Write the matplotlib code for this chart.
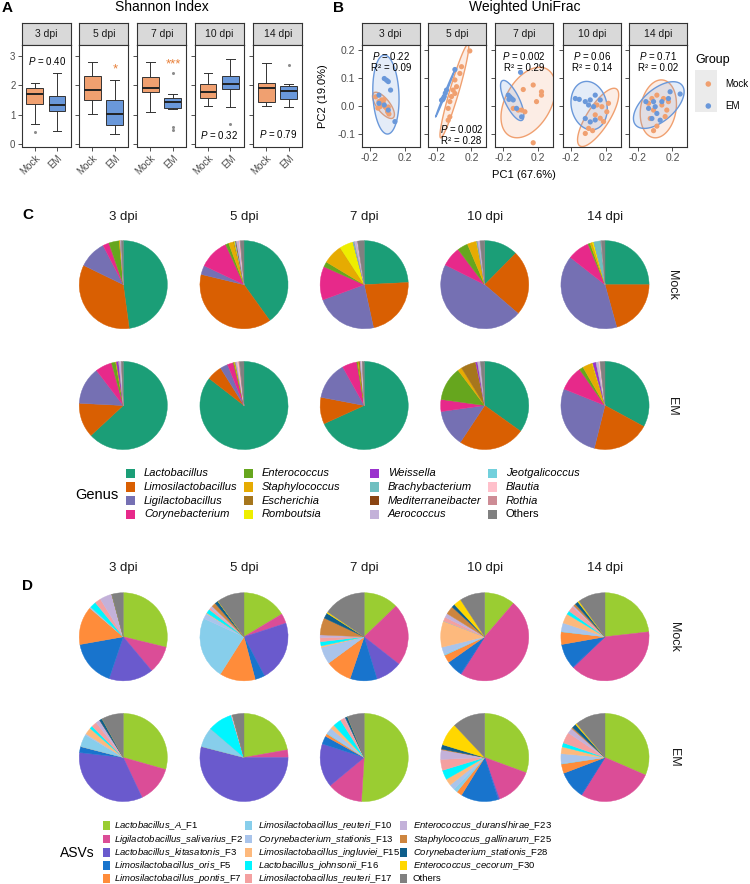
import numpy as np
import matplotlib
matplotlib.use('Agg')
import matplotlib.pyplot as plt
from matplotlib.patches import Rectangle, Polygon

plt.rcParams['font.family'] = ['Liberation Sans', 'DejaVu Sans']
plt.rcParams['mathtext.fontset'] = 'custom'
plt.rcParams['mathtext.rm'] = 'Liberation Sans'
plt.rcParams['mathtext.it'] = 'Liberation Sans:italic'

days = ['3 dpi', '5 dpi', '7 dpi', '10 dpi', '14 dpi']
groups = ['Mock', 'EM']

# A: Shannon index, box stats per day (whislo, q1, med, q3, whishi, fliers)
shannon_mock = [
    (0.69, 1.37, 1.71, 1.92, 2.08, [0.42]),
    (1.03, 1.49, 1.83, 2.31, 2.79, []),
    (1.10, 1.78, 1.92, 2.27, 2.79, []),
    (1.31, 1.57, 1.78, 2.06, 2.43, []),
    (1.31, 1.42, 1.92, 2.09, 2.75, []),
]
shannon_em = [
    (0.45, 1.11, 1.33, 1.65, 2.41, []),
    (0.34, 0.63, 1.02, 1.49, 2.20, []),
    (1.19, 1.24, 1.43, 1.57, 1.71, [2.43, 0.57, 0.49]),
    (1.26, 1.86, 2.04, 2.31, 2.91, [0.69]),
    (1.25, 1.54, 1.80, 1.99, 2.05, [2.69]),
]
shannon_sig = [r'$\mathit{P}$ = 0.40', '*', '***', r'$\mathit{P}$ = 0.32', r'$\mathit{P}$ = 0.79']

# B: weighted UniFrac PCoA coordinates per day
pc_mock_x = [
    [-0.135, -0.097, -0.067, -0.048, -0.029, -0.010, 0.002, 0.017, -0.086, -0.110, -0.040, 0.010],
    [0.181, 0.086, 0.067, 0.010, 0.029, -0.010, 0.010, -0.029, -0.048, -0.067, -0.048, -0.067],
    [0.029, 0.143, 0.238, 0.238, 0.181, -0.029, 0.010, 0.048, -0.086, 0.143],
    [0.097, 0.154, 0.230, 0.078, 0.135, 0.173, 0.211, 0.002, -0.036, 0.048],
    [0.021, 0.097, 0.154, -0.036, -0.074, -0.017, 0.078, 0.135, -0.055, 0.021, -0.017, 0.116],
]
pc_mock_y = [
    [0.032, 0.015, 0.021, 0.009, -0.003, -0.009, -0.021, -0.029, -0.003, -0.008, 0.022, -0.004],
    [0.195, 0.139, 0.115, 0.092, 0.068, 0.056, 0.044, 0.033, 0.015, -0.009, -0.039, -0.051],
    [0.058, 0.074, 0.050, 0.038, 0.015, -0.015, -0.015, -0.021, -0.009, -0.131],
    [0.003, -0.003, 0.009, -0.032, -0.044, -0.056, -0.021, -0.080, -0.098, -0.088],
    [0.038, 0.026, 0.015, 0.026, 0.009, -0.015, 0.003, -0.015, -0.045, -0.072, -0.088, -0.038],
]
pc_em_x = [
    [-0.036, -0.010, 0.010, 0.036, -0.097, -0.097, -0.036, 0.010, 0.086],
    [0.010, -0.086, -0.124, -0.143, -0.112, -0.100, -0.130],
    [-0.002, -0.143, -0.124, -0.105, -0.135, -0.086, -0.048, 0.010],
    [-0.150, -0.105, -0.036, 0.021, 0.078, 0.135, 0.002, 0.059, 0.021, -0.036, 0.078],
    [0.173, 0.288, -0.105, -0.017, 0.078, 0.002, -0.074, 0.021, 0.059, -0.036, 0.154],
]
pc_em_y = [
    [0.097, 0.091, 0.086, 0.056, 0.038, 0.009, 0.003, -0.015, -0.056],
    [0.129, 0.056, 0.026, 0.020, 0.033, 0.045, 0.022],
    [0.119, 0.038, 0.032, 0.026, 0.023, 0.021, -0.009, -0.039],
    [0.026, 0.023, 0.015, 0.021, 0.038, 0.021, 0.003, -0.003, -0.057, -0.045, -0.050],
    [0.050, 0.042, 0.015, 0.015, 0.015, -0.003, -0.009, -0.027, -0.051, -0.045, 0.026],
]
adonis_p = ['0.22', '0.002', '0.002', '0.06', '0.71']
adonis_r2 = ['0.09', '0.28', '0.29', '0.14', '0.02']

# C: genus composition (%)
genus_names = ['Lactobacillus', 'Limosilactobacillus', 'Ligilactobacillus', 'Corynebacterium',
               'Enterococcus', 'Staphylococcus', 'Escherichia', 'Romboutsia',
               'Weissella', 'Brachybacterium', 'Mediterraneibacter', 'Aerococcus',
               'Jeotgalicoccus', 'Blautia', 'Rothia', 'Others']
genus_colors = ['#1B9E77', '#D95F02', '#7570B3', '#E7298A', '#66A61E', '#E6AB02', '#A6761D', '#EEEE00',
                '#9A32CD', '#6FBFC0', '#8B4513', '#C3B1D9', '#72D0DC', '#FFC0CB', '#CD8C95', '#808080']
genus_mock = [
    [47.9, 34.4, 10.2, 2.3, 3.8, 0.3, 0, 0.1, 0, 0, 0, 0.4, 0, 0, 0, 0.7],
    [40.0, 38.6, 3.3, 11.1, 1.2, 1.8, 0.2, 0.3, 0, 0.3, 0.2, 1.0, 0, 0.3, 0.2, 1.3],
    [24.2, 22.4, 22.8, 12.3, 1.9, 7.2, 0, 5.1, 0, 0.5, 0, 1.0, 0, 0.2, 0, 2.4],
    [12.4, 23.9, 46.1, 7.3, 3.9, 3.3, 0, 0.2, 0, 0.3, 0, 0.9, 0, 0, 0, 1.7],
    [25.0, 20.7, 39.9, 8.1, 0.8, 0.8, 0, 0.6, 0, 2.6, 0, 0.2, 0, 0, 0, 1.3],
]
genus_em = [
    [63.1, 12.7, 13.8, 6.1, 1.5, 0.3, 0, 0, 0.8, 0, 0, 0.8, 0, 0.2, 0, 0.7],
    [85.5, 5.6, 2.8, 2.2, 0.3, 0.5, 0, 0, 0, 0, 0, 0.6, 0, 0.6, 0.3, 1.6],
    [68.2, 9.8, 13.9, 5.4, 0.4, 0.3, 0.5, 0, 0, 0, 0, 0.5, 0, 0.3, 0, 0.7],
    [34.9, 24.4, 13.5, 4.4, 12.5, 1.5, 5.5, 0, 0.7, 0, 0, 1.1, 0, 0, 0, 1.5],
    [32.9, 21.0, 27.2, 9.1, 1.5, 3.5, 0, 0.3, 1.2, 0, 0, 1.0, 0, 0.5, 0, 1.8],
]

# D: ASV composition (%)
asv_names = [r'$\mathit{Lactobacillus\_A}$_F1', r'$\mathit{Ligilactobacillus\_salivarius}$_F2',
             r'$\mathit{Lactobacillus\_kitasatonis}$_F3', r'$\mathit{Limosilactobacillus\_oris}$_F5',
             r'$\mathit{Limosilactobacillus\_pontis}$_F7', r'$\mathit{Limosilactobacillus\_reuteri}$_F10',
             r'$\mathit{Corynebacterium\_stationis}$_F13', r'$\mathit{Limosilactobacillus\_ingluviei}$_F15',
             r'$\mathit{Lactobacillus\_johnsonii}$_F16', r'$\mathit{Limosilactobacillus\_reuteri}$_F17',
             r'$\mathit{Enterococcus\_durans/hirae}$_F23', r'$\mathit{Staphylococcus\_gallinarum}$_F25',
             r'$\mathit{Corynebacterium\_stationis}$_F28', r'$\mathit{Enterococcus\_cecorum}$_F30', 'Others']
asv_colors = ['#9ACD32', '#DB4D97', '#6A5ACD', '#1874CD', '#FF8C3A', '#87CEEB', '#A9C4EB', '#FDB97D',
              '#00F5FF', '#F4A0A0', '#C3B1D9', '#CD853F', '#0E5E8B', '#FFD700', '#808080']
asv_mock = [
    [28.8, 10.1, 16.3, 17.0, 14.1, 0, 0.5, 0, 2.3, 2.2, 4.5, 0, 0, 0, 4.2],
    [16.4, 3.6, 22.3, 3.6, 13.1, 22.8, 2.0, 0.3, 1.5, 0.8, 0.8, 1.5, 1.2, 0.1, 10.0],
    [12.8, 22.8, 9.7, 9.9, 9.7, 0, 6.2, 0.6, 1.5, 1.5, 1.0, 6.3, 2.0, 0.5, 15.5],
    [11.3, 47.6, 0.3, 6.0, 2.9, 0.5, 2.6, 9.6, 0, 1.5, 1.5, 3.0, 1.2, 2.8, 9.2],
    [23.2, 39.5, 0.3, 9.2, 4.6, 0.3, 3.0, 3.5, 1.3, 2.0, 0.6, 0.8, 1.2, 0.5, 10.0],
]
asv_em = [
    [29.4, 13.6, 33.8, 2.2, 0, 4.5, 0.5, 2.5, 1.0, 2.0, 1.5, 0, 1.0, 0, 8.0],
    [22.2, 2.8, 54.0, 0, 0, 7.3, 0, 0, 9.0, 0, 0.5, 0, 0, 0, 4.2],
    [51.0, 13.0, 16.0, 3.0, 1.0, 0.5, 2.0, 1.5, 3.0, 1.5, 0.5, 0, 0.8, 0, 6.2],
    [30.6, 13.9, 0.5, 13.8, 2.0, 1.5, 2.0, 2.5, 3.5, 4.0, 3.5, 0.3, 1.6, 8.3, 12.0],
    [31.5, 27.3, 0.2, 10.2, 3.4, 0.3, 3.5, 2.5, 1.5, 4.0, 2.0, 0.5, 1.5, 0.5, 11.1],
]

mock_col = '#F0A070'
em_col = '#6A98DA'
W, H = 750, 884

fig = plt.figure(figsize=(7.5, 8.84), dpi=100)


def px_axes(x0, y0, x1, y1):
    return fig.add_axes([x0 / W, 1 - y1 / H, (x1 - x0) / W, (y1 - y0) / H])


def strip(x0, x1, label):
    s = px_axes(x0, 22.7, x1, 45)
    s.set_facecolor('#D9D9D9')
    s.set_xticks([])
    s.set_yticks([])
    for sp in s.spines.values():
        sp.set_color('#333333')
        sp.set_linewidth(0.8)
    s.text(0.5, 0.5, label, ha='center', va='center', fontsize=7.5, color='#1A1A1A', transform=s.transAxes)


def frame(ax):
    for sp in ax.spines.values():
        sp.set_color('#333333')
        sp.set_linewidth(0.8)
    ax.tick_params(length=3, width=0.6, color='#333333', labelcolor='#4D4D4D', labelsize=7, pad=1.5)


# ---- panel A
a_left = [21.7, 79.3, 137.3, 195, 253.3]
sig_pos = [(1.55, 2.84), (2.03, 2.55), (2.02, 2.7), (1.47, 0.32), (1.52, 0.34)]
for i, d in enumerate(days):
    strip(a_left[i], a_left[i] + 49, d)
    ax = px_axes(a_left[i], 45, a_left[i] + 49, 146.5)
    stats = []
    for s in (shannon_mock[i], shannon_em[i]):
        stats.append(dict(whislo=s[0], q1=s[1], med=s[2], q3=s[3], whishi=s[4], fliers=s[5]))
    bp = ax.bxp(stats, positions=[1, 2], widths=0.75, patch_artist=True, capwidths=0.38,
                boxprops=dict(linewidth=0.7, edgecolor='#333333'),
                whiskerprops=dict(linewidth=0.7, color='#333333'),
                capprops=dict(linewidth=0.7, color='#333333'),
                medianprops=dict(linewidth=1.4, color='#222222'),
                flierprops=dict(marker='o', markersize=2.2, markerfacecolor='#8C8C8C',
                                markeredgecolor='none'))
    for b, c in zip(bp['boxes'], [mock_col, em_col]):
        b.set_facecolor(c)
    ax.set_xlim(0.41, 2.61)
    ax.set_ylim(-0.09, 3.38)
    ax.set_xticks([1, 2])
    ax.set_xticklabels(groups, rotation=45, ha='right', rotation_mode='anchor')
    ax.set_yticks([0, 1, 2, 3])
    if i > 0:
        ax.set_yticklabels([])
        ax.tick_params(axis='y', length=0)
    frame(ax)
    lab = shannon_sig[i]
    if lab.startswith('*'):
        ax.text(*sig_pos[i], lab, ha='center', va='center', fontsize=9.5, color='#E8803A')
    else:
        ax.text(*sig_pos[i], lab, ha='center', va='center', fontsize=7)


# ---- panel B
def t_ellipse(ax, x, y, color, level=0.95, nu=5):
    # multivariate-t ellipse (robust covariance), like ggplot's stat_ellipse
    X = np.column_stack([x, y])
    n = len(X)
    loc = X.mean(0)
    cov = np.cov(X.T)
    for _ in range(100):
        Xc = X - loc
        dist = np.einsum('ij,jk,ik->i', Xc, np.linalg.inv(cov), Xc)
        w = (nu + 2) / (nu + dist)
        loc = (w[:, None] * X).sum(0) / w.sum()
        Xc = X - loc
        cov = (w[:, None] * Xc).T @ Xc / n
    df2 = n - 1
    fq = df2 / 2 * ((1 - level) ** (-2 / df2) - 1)
    radius = np.sqrt(2 * fq)
    t = np.linspace(0, 2 * np.pi, 100)
    circle = np.column_stack([np.cos(t), np.sin(t)])
    pts = loc + radius * circle @ np.linalg.cholesky(cov).T
    ax.add_patch(Polygon(pts, closed=True, facecolor=color, alpha=0.18, edgecolor='none'))
    ax.add_patch(Polygon(pts, closed=True, facecolor='none', edgecolor=color, linewidth=1.0))


b_left = [361.7, 428.3, 495, 562.7, 629.3]
for i, d in enumerate(days):
    strip(b_left[i], b_left[i] + 58, d)
    ax = px_axes(b_left[i], 45, b_left[i] + 58, 146.7)
    t_ellipse(ax, pc_mock_x[i], pc_mock_y[i], mock_col)
    t_ellipse(ax, pc_em_x[i], pc_em_y[i], em_col)
    ax.scatter(pc_mock_x[i], pc_mock_y[i], s=14, color=mock_col, edgecolors='none', zorder=3)
    ax.scatter(pc_em_x[i], pc_em_y[i], s=14, color=em_col, edgecolors='none', zorder=3)
    ax.set_xlim(-0.295, 0.37)
    ax.set_ylim(-0.145, 0.216)
    ax.set_xticks([-0.2, 0.2])
    ax.set_xticklabels(['-0.2', '0.2'])
    ax.set_yticks([-0.1, 0.0, 0.1, 0.2])
    ax.set_yticklabels(['-0.1', '0.0', '0.1', '0.2'])
    if i > 0:
        ax.set_yticklabels([])
        ax.tick_params(axis='y', length=0)
    frame(ax)
    ax.tick_params(labelsize=7.5)
    if i == 1:
        tx, ty1, ty2 = 0.57, 0.17, 0.06
    else:
        tx, ty1, ty2 = 0.5, 0.89, 0.77
    ax.text(tx, ty1, r'$\mathit{P}$ = ' + adonis_p[i], transform=ax.transAxes, ha='center', va='center',
            fontsize=7)
    ax.text(tx, ty2, 'R² = ' + adonis_r2[i], transform=ax.transAxes, ha='center', va='center', fontsize=7)

# overlay for labels and legends, in pixel coordinates
ov = fig.add_axes([0, 0, 1, 1])
ov.set_xlim(0, W)
ov.set_ylim(H, 0)
ov.axis('off')

ov.text(2, 8, 'A', fontsize=11, fontweight='bold', ha='left', va='center')
ov.text(161.7, 7, 'Shannon Index', fontsize=10, ha='center', va='center')
ov.text(333, 8, 'B', fontsize=11, fontweight='bold', ha='left', va='center')
ov.text(525, 7, 'Weighted UniFrac', fontsize=10, ha='center', va='center')
ov.text(323, 96, 'PC2 (19.0%)', fontsize=8, rotation=90, ha='center', va='center')
ov.text(524, 175, 'PC1 (67.6%)', fontsize=8, ha='center', va='center')

ov.text(695, 60, 'Group', fontsize=9, ha='left', va='center')
ov.add_patch(Rectangle((695, 70), 22, 42, facecolor='#EBEBEB', edgecolor='none'))
ov.scatter([708.3, 708.3], [84, 106], s=16, color=[mock_col, em_col], edgecolors='none')
ov.text(725, 84, 'Mock', fontsize=7, ha='left', va='center')
ov.text(725, 106, 'EM', fontsize=7, ha='left', va='center')

# ---- panels C and D: pies
pie_x = [123.3, 244, 364.2, 484.7, 605]
r = 44.5


def draw_pie(cx, cy, vals, colors):
    pa = px_axes(cx - r, cy - r, cx + r, cy + r)
    wedges, _ = pa.pie(vals, colors=colors, startangle=90, counterclock=False, radius=1)
    for w in wedges:
        w.set_edgecolor(w.get_facecolor())
        w.set_linewidth(0.3)
    pa.set_xlim(-1.01, 1.01)
    pa.set_ylim(-1.01, 1.01)
    pa.axis('off')


ov.text(22, 215, 'C', fontsize=11, fontweight='bold', ha='left', va='center')
for i, d in enumerate(days):
    ov.text(pie_x[i], 216.7, d, fontsize=9.5, ha='center', va='center', color='#1A1A1A')
    draw_pie(pie_x[i], 284.7, genus_mock[i], genus_colors)
    draw_pie(pie_x[i], 405.5, genus_em[i], genus_colors)
ov.text(671.7, 285, 'Mock', fontsize=9, rotation=-90, ha='center', va='center', color='#1A1A1A')
ov.text(671.7, 406, 'EM', fontsize=9, rotation=-90, ha='center', va='center', color='#1A1A1A')

ov.text(22, 586, 'D', fontsize=11, fontweight='bold', ha='left', va='center')
for i, d in enumerate(days):
    ov.text(pie_x[i], 568.3, d, fontsize=9.5, ha='center', va='center', color='#1A1A1A')
    draw_pie(pie_x[i], 636.8, asv_mock[i], asv_colors)
    draw_pie(pie_x[i], 757.5, asv_em[i], asv_colors)
ov.text(674, 637, 'Mock', fontsize=9, rotation=-90, ha='center', va='center', color='#1A1A1A')
ov.text(674, 757, 'EM', fontsize=9, rotation=-90, ha='center', va='center', color='#1A1A1A')

# genus legend
ov.text(96.7, 495, 'Genus', fontsize=10.5, ha='center', va='center')
g_patch_x = [126, 244, 370, 487.7]
g_text_x = [144, 261.7, 387.7, 505.7]
g_row_y = [473.3, 486.9, 500.6, 514.3]
for k, name in enumerate(genus_names):
    c, rr = divmod(k, 4)
    ov.add_patch(Rectangle((g_patch_x[c], g_row_y[rr] - 4.7), 9.3, 9.4, facecolor=genus_colors[k],
                           edgecolor='none'))
    ov.text(g_text_x[c], g_row_y[rr], name, fontsize=8, ha='left', va='center',
            style='normal' if name == 'Others' else 'italic')

# ASV legend
ov.text(77.7, 853.3, 'ASVs', fontsize=10, ha='center', va='center')
a_patch_x = [103.3, 245, 400]
a_text_x = [114, 257.7, 412.7]
a_row_y = [825.7, 839.0, 852.3, 865.3, 878.3]
for k, name in enumerate(asv_names):
    c, rr = divmod(k, 5)
    ov.add_patch(Rectangle((a_patch_x[c], a_row_y[rr] - 4.3), 6.7, 8.6, facecolor=asv_colors[k],
                           edgecolor='none'))
    ov.text(a_text_x[c], a_row_y[rr], name, fontsize=6.8, ha='left', va='center')

fig.savefig('out.png', dpi=100)
